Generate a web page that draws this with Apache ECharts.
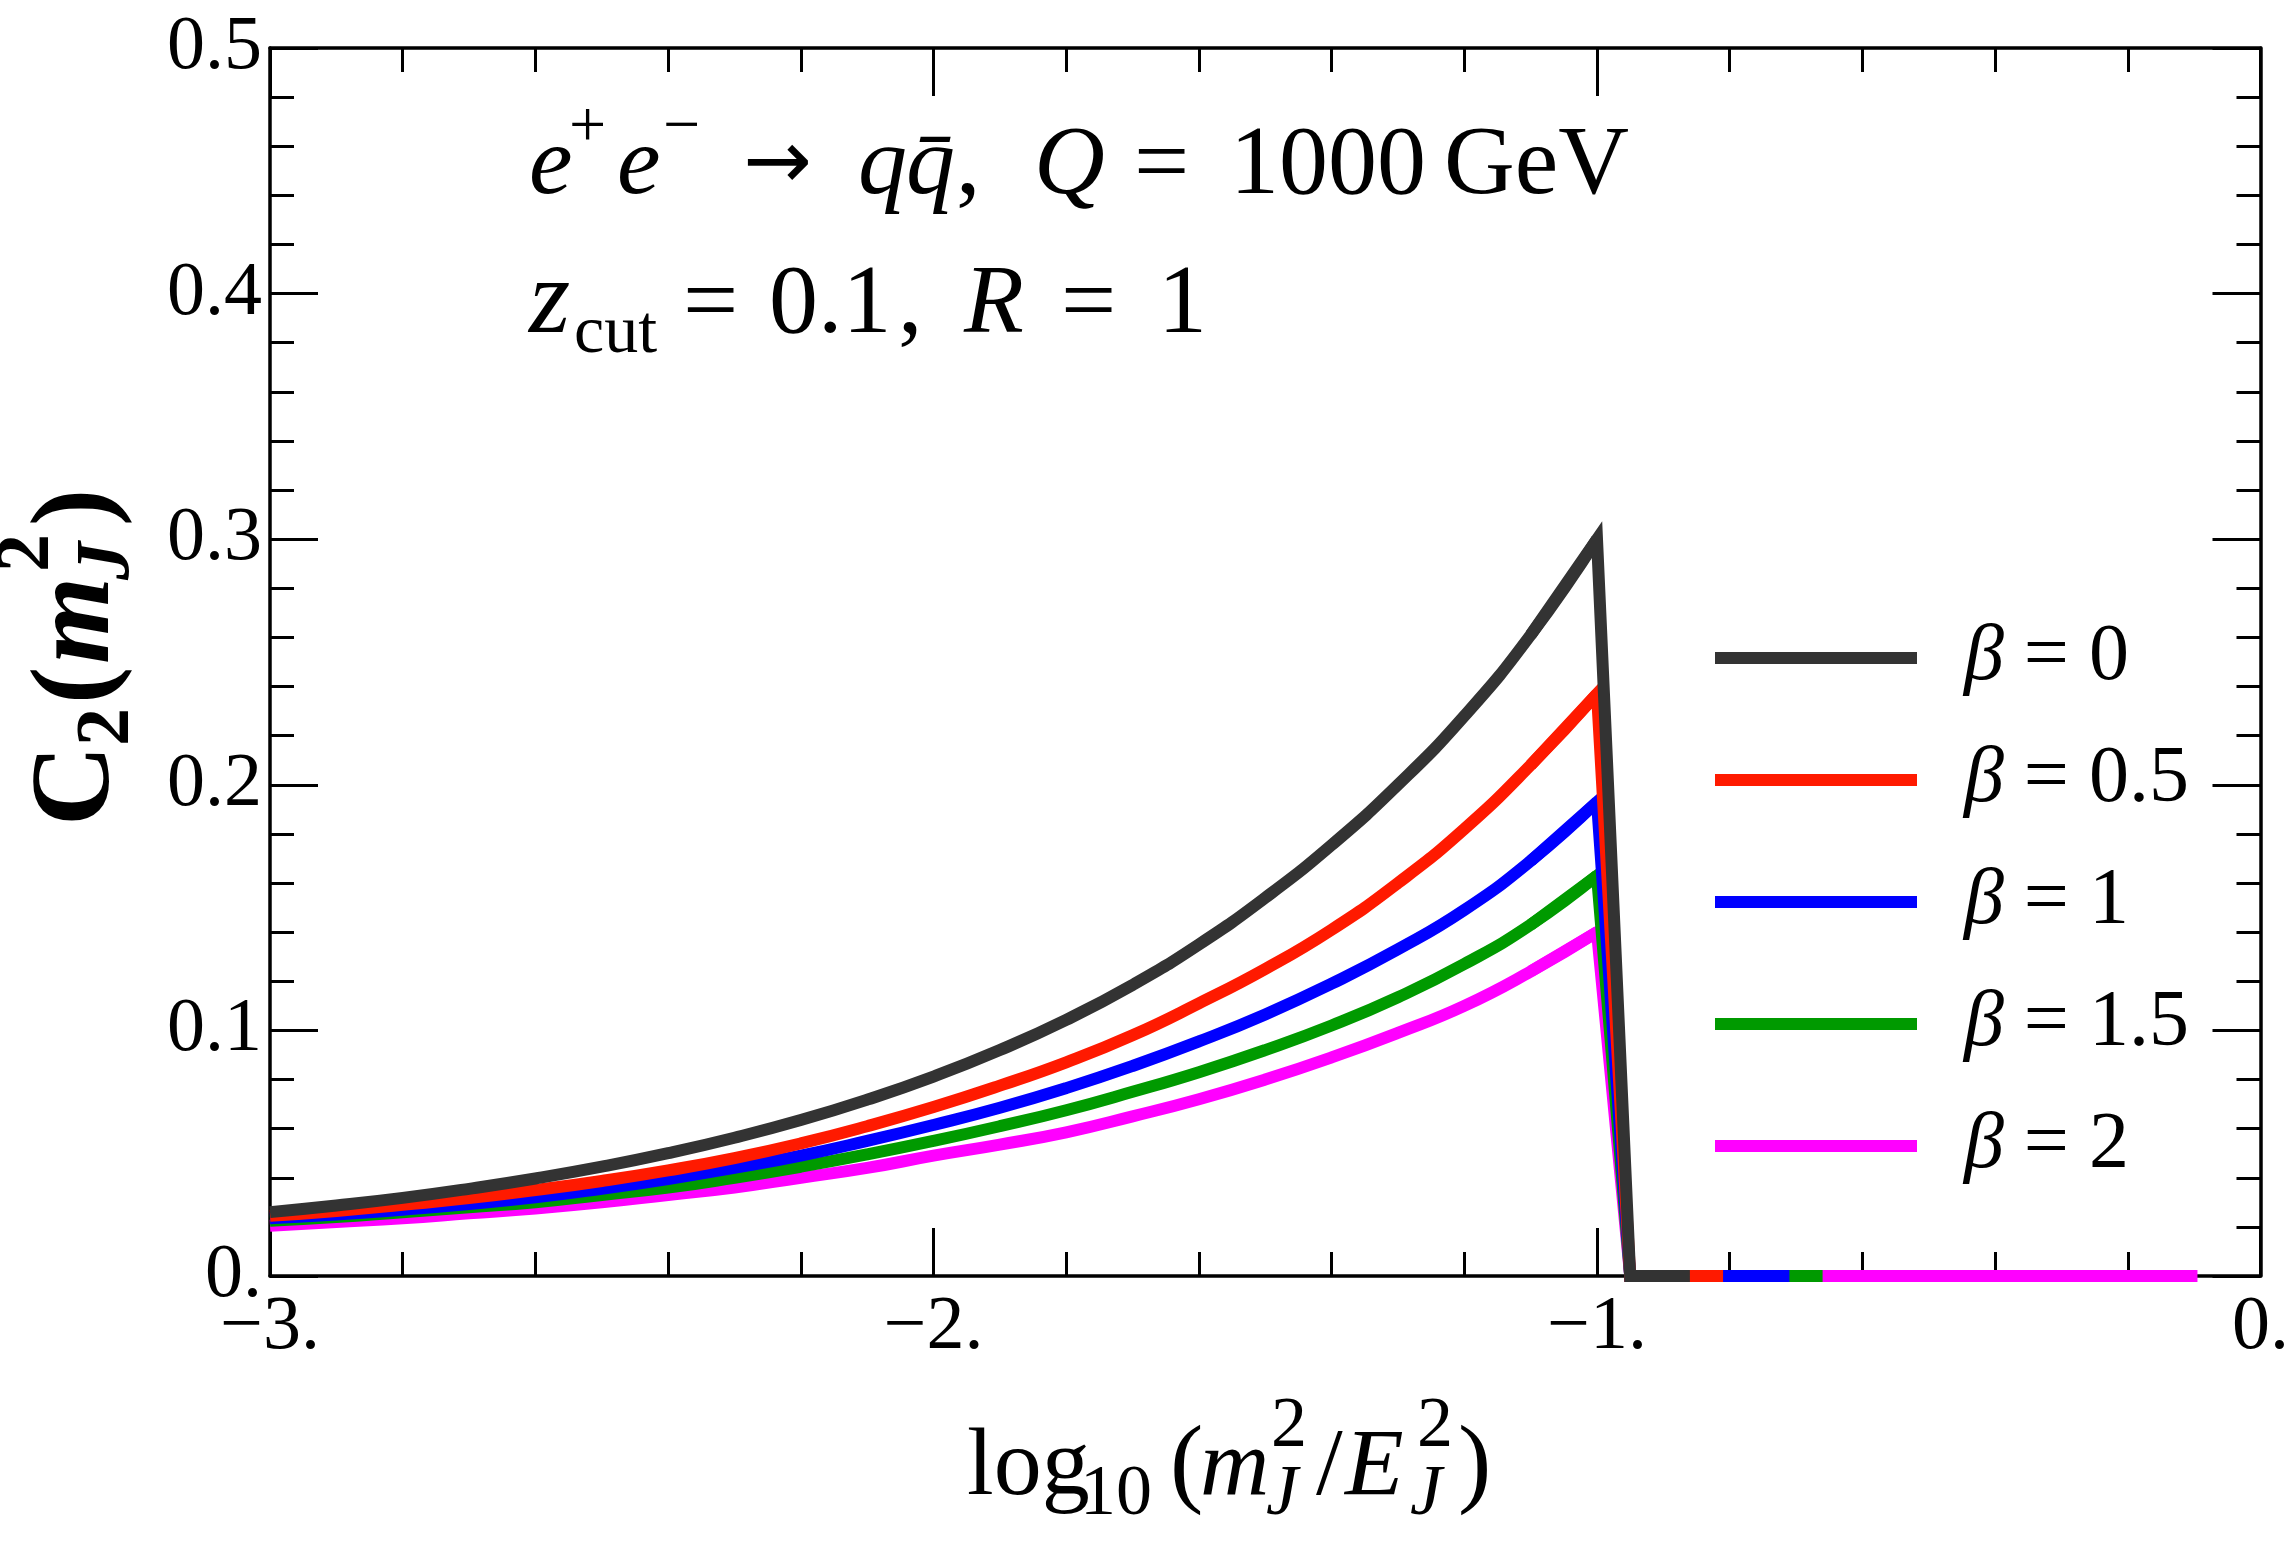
<!DOCTYPE html>
<html>
<head>
<meta charset="utf-8">
<script src="https://cdn.jsdelivr.net/npm/echarts@6/dist/echarts.min.js"></script>
<style>
  html, body { margin: 0; padding: 0; background: #fff; }
  #chart { width: 2292px; height: 1542px; }
</style>
</head>
<body>
<div id="chart"></div>
<script>
// log10(m_J^2/E_J^2) sample points along the curves
const logM = [-3.0, -2.9, -2.8, -2.7, -2.6, -2.5, -2.4, -2.3, -2.2, -2.1, -2.0,
  -1.9, -1.8, -1.7, -1.6, -1.5, -1.4, -1.3, -1.2, -1.1, -1.0]

// C2(m_J^2), one list per beta
const beta0 = [0.026, 0.0287, 0.0318, 0.0355, 0.0397, 0.0445, 0.050, 0.0563, 0.0635, 0.0718, 0.0812,
  0.092, 0.1043, 0.1185, 0.135, 0.154, 0.1755, 0.200, 0.228, 0.261, 0.300]
const beta05 = [0.0245, 0.0265, 0.029, 0.0317, 0.035, 0.0387, 0.043, 0.048, 0.054, 0.061, 0.0688,
  0.0775, 0.087, 0.098, 0.111, 0.125, 0.141, 0.160, 0.182, 0.208, 0.237]
const beta1 = [0.0235, 0.025, 0.027, 0.0293, 0.032, 0.0355, 0.0395, 0.044, 0.049, 0.055, 0.0615,
  0.0685, 0.0765, 0.0855, 0.0955, 0.1065, 0.119, 0.133, 0.149, 0.169, 0.193]
const beta15 = [0.0225, 0.024, 0.026, 0.028, 0.030, 0.033, 0.036, 0.040, 0.0445, 0.0495, 0.055,
  0.061, 0.0675, 0.075, 0.083, 0.092, 0.102, 0.1135, 0.127, 0.143, 0.163]
const beta2 = [0.0205, 0.022, 0.0235, 0.0255, 0.0275, 0.030, 0.033, 0.036, 0.040, 0.044, 0.049,
  0.0535, 0.0585, 0.065, 0.072, 0.080, 0.089, 0.099, 0.110, 0.124, 0.140]

// after the edge every curve falls to zero and runs along the axis
const dropX = -0.95
const tailEnd = [-0.86, -0.81, -0.71, -0.66, -0.095]

const names = ['β = 0', 'β = 0.5', 'β = 1', 'β = 1.5', 'β = 2']
const colors = ['#333333', '#ff1a00', '#0000ff', '#009a00', '#ff00ff']
const values = [beta0, beta05, beta1, beta15, beta2]

const xTicks = { '-3': '−3.', '-2': '−2.', '-1': '−1.', '0': '0.' }
const yTicks = ['0.', '0.1', '0.2', '0.3', '0.4', '0.5']

const serif = '"Liberation Serif", "DejaVu Serif", serif'

const chart = echarts.init(document.getElementById('chart'))

const frameAxis = (extra) => Object.assign({
  axisLine: { show: true, onZero: false, lineStyle: { color: '#000', width: 3.5 } },
  axisTick: { show: true, inside: true, length: 48, lineStyle: { color: '#000', width: 3 } },
  minorTick: { show: true, splitNumber: 5, length: 24, lineStyle: { color: '#000', width: 3 } },
  splitLine: { show: false },
}, extra)

// one text piece, y is the baseline
const piece = (str, x, y, size, opt = {}) => ({
  type: 'text', x, y: y - 0.32 * size,
  style: {
    text: str, fill: '#000', fontFamily: opt.family || serif, fontSize: size,
    fontStyle: opt.italic ? 'italic' : 'normal',
    fontWeight: opt.bold ? 'bold' : 'normal',
    verticalAlign: 'middle', align: 'left',
  },
})

const lineStyle = (k) => ({ color: colors[k], width: 12, join: 'miter', miterLimit: 30, cap: 'butt' })

// smooth rising part, then a straight piece from the last step over the edge and along zero
const series = []
values.forEach((v, k) => {
  const n = v.length
  series.push({
    name: names[k], type: 'line', smooth: 0.5, showSymbol: false, symbol: 'none',
    z: 10 - k, lineStyle: lineStyle(k), itemStyle: { color: colors[k] },
    data: logM.map((x, i) => [x, v[i]]),
  })
  series.push({
    name: names[k], type: 'line', showSymbol: false, symbol: 'none',
    z: 10 - k, lineStyle: lineStyle(k), itemStyle: { color: colors[k] },
    data: [[logM[n - 2], v[n - 2]], [logM[n - 1], v[n - 1]], [dropX, 0], [tailEnd[k], 0]],
  })
})

const option = {
  backgroundColor: '#fff',
  animation: false,
  grid: { left: 270, right: 31, top: 48, bottom: 266 },
  xAxis: [
    frameAxis({
      type: 'value', min: -3, max: 0, interval: 1, position: 'bottom',
      axisLabel: {
        color: '#000', fontFamily: serif, fontSize: 76, margin: 14,
        showMinLabel: true, showMaxLabel: true,
        formatter: (v) => xTicks[String(Math.round(v))],
      },
    }),
    frameAxis({
      type: 'value', min: -3, max: 0, interval: 1, position: 'top',
      axisLabel: { show: false },
    }),
  ],
  yAxis: [
    frameAxis({
      type: 'value', min: 0, max: 0.5, interval: 0.1, position: 'left',
      axisLabel: {
        color: '#000', fontFamily: serif, fontSize: 76, margin: 8,
        showMinLabel: true, showMaxLabel: true,
        formatter: (v) => yTicks[Math.round(v * 10)],
      },
    }),
    frameAxis({
      type: 'value', min: 0, max: 0.5, interval: 0.1, position: 'right',
      axisLabel: { show: false },
    }),
  ],
  legend: {
    orient: 'vertical',
    left: 1710, top: 613,
    icon: 'rect',
    itemWidth: 202, itemHeight: 12, itemGap: 42,
    data: names,
    formatter: (n) => '{i|β}' + n.slice(1),
    textStyle: {
      color: '#000', fontFamily: serif, fontSize: 80, lineHeight: 80,
      padding: [0, 0, 0, 42],
      rich: { i: { fontStyle: 'italic', fontFamily: serif, fontSize: 80 } },
    },
  },
  graphic: [
    // e+e- -> q qbar, Q = 1000 GeV
    piece('e', 529, 199, 98, { italic: true }),
    piece('+', 569, 150, 66),
    piece('e', 617, 199, 98, { italic: true }),
    piece('−', 663, 150, 66),
    piece('→', 743, 193, 82, { family: '"DejaVu Sans", sans-serif' }),
    piece('q', 858, 199, 98, { italic: true }),
    piece('q\u0304', 906, 199, 98, { italic: true }),
    piece(',', 956, 199, 98),
    piece('Q', 1034, 199, 98, { italic: true }),
    piece('=', 1134, 199, 98),
    piece('1000', 1230, 199, 98),
    piece('GeV', 1444, 199, 98),
    // z_cut = 0.1, R = 1
    piece('z', 529, 338, 106, { italic: true }),
    piece('cut', 574, 356, 68),
    piece('=', 683, 338, 98),
    piece('0.1', 769, 338, 98),
    piece(',', 898, 338, 98),
    piece('R', 964, 338, 98, { italic: true }),
    piece('=', 1061, 338, 98),
    piece('1', 1158, 338, 98),
    // x axis title: log10(m_J^2/E_J^2)
    piece('log', 967, 1500, 96),
    piece('10', 1080, 1518, 72),
    piece('(', 1170, 1500, 100),
    piece('m', 1200, 1500, 96, { italic: true }),
    piece('2', 1271, 1450, 72),
    piece('J', 1266, 1518, 72, { italic: true }),
    piece('/', 1316, 1500, 96),
    piece('E', 1345, 1500, 96, { italic: true }),
    piece('2', 1417, 1450, 72),
    piece('J', 1410, 1518, 72, { italic: true }),
    piece(')', 1458, 1500, 100),
    // y axis title: C2(m_J^2), turned to read upwards
    {
      type: 'group', x: 115, y: 826, rotation: Math.PI / 2,
      children: [
        piece('C', 0, 0, 112, { bold: true }),
        piece('2', 80, 18, 76, { bold: true }),
        piece('(', 122, 0, 112, { bold: true }),
        piece('m', 162, 0, 112, { italic: true, bold: true }),
        piece('2', 254, -62, 76, { bold: true }),
        piece('J', 246, 18, 76, { italic: true, bold: true }),
        piece(')', 300, 0, 112, { bold: true }),
      ],
    },
  ],
  series,
}

chart.setOption(option)
</script>
</body>
</html>
